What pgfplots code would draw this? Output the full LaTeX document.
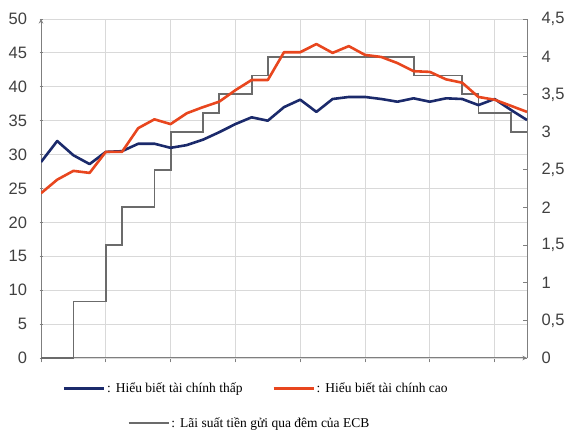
\documentclass[border=0pt]{standalone}
\usepackage{pgfplots}
\pgfplotsset{compat=1.18}
\usepackage{fontspec}
\newfontfamily\arialfont{Liberation Sans}
\newfontfamily\timesfont{Liberation Serif}

\definecolor{lowblue}{HTML}{1B2A6B}
\definecolor{highred}{HTML}{E8461E}
\definecolor{ecbgray}{HTML}{6B6B6B}
\definecolor{gridgray}{HTML}{D9D9D9}
\definecolor{axisgray}{HTML}{7F7F7F}
\definecolor{labelgray}{HTML}{404040}

\pgfplotsset{
  base/.style={
    scale only axis, width=486pt, height=339pt,
    at={(41pt,78pt)}, anchor=south west,
    xmin=0, xmax=30,
    /pgf/number format/assume math mode=true,
    /pgf/number format/use comma,
    tick label style={font=\arialfont\fontsize{16.5}{16.5}\selectfont, text=labelgray},
    axis line style={-, draw=axisgray, line width=1pt},
    major tick length=3pt,
    tick style={draw=axisgray, line width=0.8pt},
    legend image code/.code={\draw[#1] (0pt,0pt) -- (40pt,0pt);},
    legend style={draw=none, fill=none, anchor=center,
      font=\timesfont\fontsize{13.5}{15}\selectfont,
      /tikz/every even column/.append style={column sep=28pt}},
  },
}

\begin{document}
\begin{tikzpicture}
\path[use as bounding box] (0pt,0pt) rectangle (575pt,436pt);

% left scale: grid, ticks, legend for the two survey series
\begin{axis}[base,
  ymin=0, ymax=50,
  axis x line=bottom, axis y line=left,
  xtick={0,4,...,28}, xticklabels={},
  xtick style={yshift=-3pt},
  ytick={0,5,...,50},
  yticklabel style={xshift=-9pt},
  grid=major, grid style={gridgray, line width=0.8pt},
  legend columns=2,
  legend style={at={(axis description cs:0.443,-0.09)}},
]
\addlegendimage{lowblue, line width=2.2pt}
\addlegendentry{:\hspace{5pt}Hiểu biết tài chính thấp}
\addlegendimage{highred, line width=2.2pt}
\addlegendentry{:\hspace{5pt}Hiểu biết tài chính cao}
\end{axis}

% right scale: ECB overnight deposit rate
\begin{axis}[base,
  ymin=0, ymax=4.5,
  axis y line*=right, axis x line=none,
  ytick={0,0.5,...,4.5},
  yticklabel style={xshift=11pt},
  major tick length=4pt,
  legend style={at={(axis description cs:0.429,-0.192)}},
]
\addplot[const plot, ecbgray, line width=1.8pt] coordinates {
(0,0) (2,0.75) (4,1.5) (5,2) (7,2.5) (8,3) (10,3.25) (11,3.5)
(13,3.75) (14,4) (23,3.75) (26,3.5) (27,3.25) (29,3) (30,3)
};
\addlegendentry{:\hspace{5pt}Lãi suất tiền gửi qua đêm của ECB}
\end{axis}

% left scale: the two survey series on top
\begin{axis}[base, ymin=0, ymax=50, hide axis]
\addplot[lowblue, line width=2.6pt, line join=round] coordinates {
(0,28.9) (1,32.0) (2,29.9) (3,28.6) (4,30.4) (5,30.5) (6,31.6) (7,31.6)
(8,31.0) (9,31.4) (10,32.2) (11,33.3) (12,34.5) (13,35.5) (14,35.0)
(15,37.0) (16,38.1) (17,36.3) (18,38.2) (19,38.5) (20,38.5) (21,38.2)
(22,37.8) (23,38.3) (24,37.8) (25,38.3) (26,38.2) (27,37.3) (28,38.2)
(29,36.6) (30,35.1)
};
\addplot[highred, line width=2.6pt, line join=round] coordinates {
(0,24.3) (1,26.3) (2,27.6) (3,27.3) (4,30.4) (5,30.4) (6,33.9) (7,35.2)
(8,34.5) (9,36.1) (10,37.0) (11,37.8) (12,39.5) (13,41.0) (14,41.0)
(15,45.1) (16,45.1) (17,46.3) (18,45.0) (19,46.0) (20,44.7) (21,44.4)
(22,43.5) (23,42.3) (24,42.2) (25,41.1) (26,40.6) (27,38.5) (28,38.1)
(29,37.2) (30,36.3)
};
\end{axis}
\end{tikzpicture}
\end{document}
